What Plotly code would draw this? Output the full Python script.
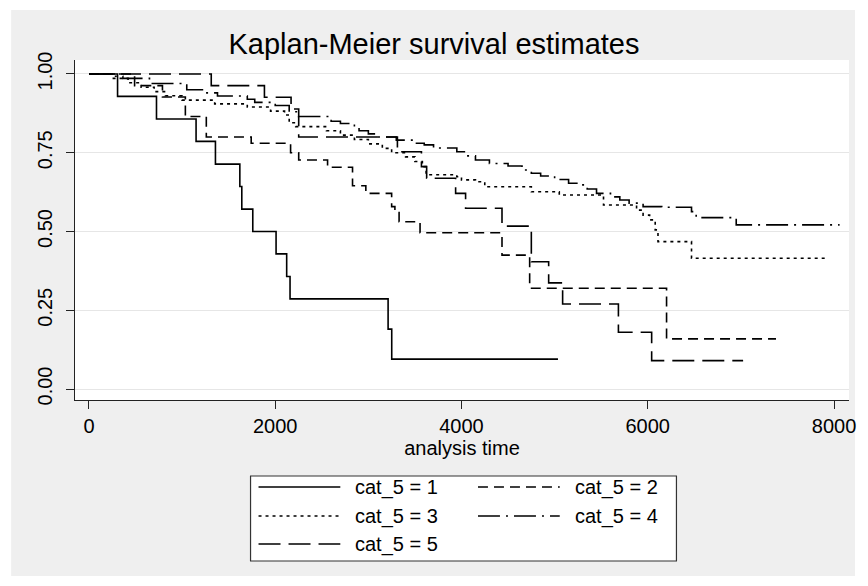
import plotly.graph_objects as go

# ---------------- data ----------------
labels = ["cat_5 = 1", "cat_5 = 2", "cat_5 = 3", "cat_5 = 4", "cat_5 = 5"]

t_cat1 = [0, 307, 725, 1150, 1358, 1620, 1641, 1759, 2009, 2123, 2159, 3212, 3251, 5036]
s_cat1 = [1.0, 0.929, 0.857, 0.786, 0.714, 0.643, 0.571, 0.500, 0.429, 0.357, 0.286, 0.190, 0.095, 0.095]

t_cat2 = [0, 490, 789, 1035, 1260, 1742, 2165, 2252, 2562, 2830, 2973, 3250, 3285, 3330, 3555, 4435, 4732, 6202, 7377]
s_cat2 = [1.0, 0.963, 0.927, 0.865, 0.800, 0.780, 0.750, 0.727, 0.704, 0.645, 0.621, 0.579, 0.560, 0.531, 0.496, 0.425, 0.320, 0.159, 0.159]

t_cat3 = [0, 250, 420, 560, 700, 820, 1000, 1350, 1700, 1950, 2100, 2150, 2220, 2550, 2700, 2850, 3000, 3150,
          3250, 3400, 3500, 3580, 3620, 3950, 4000, 4150, 4250, 4750, 5050, 5525, 5880, 5950, 6020, 6080, 6110, 6470, 7934]
s_cat3 = [1.0, 0.986, 0.972, 0.958, 0.944, 0.931, 0.917, 0.905, 0.895, 0.882, 0.870, 0.845, 0.833, 0.820, 0.806, 0.792, 0.778, 0.764,
          0.750, 0.737, 0.722, 0.706, 0.680, 0.674, 0.664, 0.658, 0.642, 0.626, 0.616, 0.584, 0.568, 0.552, 0.537, 0.505, 0.468, 0.415, 0.415]

t_cat4 = [0, 225, 364, 650, 1050, 1250, 1380, 1700, 1780, 2000, 2150, 2250, 2600, 2700, 2850, 2900, 3000, 3100, 3300,
          3500, 3600, 3700, 3950, 4050, 4150, 4300, 4500, 4650, 4750, 4850, 5000, 5150, 5250, 5350, 5450, 5600, 5700,
          5800, 5950, 6150, 6470, 6520, 6950, 8060]
s_cat4 = [1.0, 0.993, 0.986, 0.970, 0.950, 0.940, 0.930, 0.920, 0.910, 0.900, 0.880, 0.865, 0.850, 0.843, 0.830, 0.820, 0.810, 0.800, 0.790,
          0.780, 0.775, 0.765, 0.753, 0.740, 0.727, 0.716, 0.708, 0.695, 0.685, 0.676, 0.665, 0.653, 0.648, 0.635, 0.621, 0.610, 0.600,
          0.590, 0.579, 0.577, 0.563, 0.544, 0.521, 0.521]

t_cat5 = [0, 1313, 1884, 2170, 2252, 3312, 3570, 3626, 3937, 4044, 4435, 4750, 4936, 5086, 5685, 6042, 7024]
s_cat5 = [1.0, 0.963, 0.926, 0.889, 0.800, 0.753, 0.706, 0.669, 0.621, 0.574, 0.517, 0.404, 0.337, 0.270, 0.180, 0.090, 0.090]

x_ticks = [0, 2000, 4000, 6000, 8000]
y_ticks = [0, 0.25, 0.5, 0.75, 1.0]
y_ticklabels = ["0.00", "0.25", "0.50", "0.75", "1.00"]

# ---------------- styling ----------------
FONT = "Liberation Sans, Arial, sans-serif"
W_FIG, H_FIG = 868, 586
L, R, T, B = 75, 851, 60, 400  # plot area in pixels
PW, PH = R - L, B - T

dashes = ["solid", "10px,6px", "3px,4px", "22px,6px,2px,6px", "22px,8px"]
LINE_W = 1.6


def px(xp):
    return (xp - L) / PW


def py(yp):
    return (B - yp) / PH


series = [(t_cat1, s_cat1), (t_cat2, s_cat2), (t_cat3, s_cat3), (t_cat4, s_cat4), (t_cat5, s_cat5)]

fig = go.Figure()
for (tt, ss), name, d in zip(series, labels, dashes):
    fig.add_trace(go.Scatter(
        x=tt, y=ss, mode="lines", name=name,
        line=dict(color="black", width=LINE_W, dash=d, shape="hv"),
        showlegend=False, hoverinfo="x+y+name",
    ))

shapes = [
    # gray graph region
    dict(type="rect", xref="paper", yref="paper", layer="below",
         x0=px(11), x1=px(857), y0=py(576), y1=py(10),
         fillcolor="#efefef", line=dict(width=0)),
    # white plot region
    dict(type="rect", xref="paper", yref="paper", layer="below",
         x0=0, x1=1, y0=0, y1=1, fillcolor="white", line=dict(width=0)),
    # legend box
    dict(type="rect", xref="paper", yref="paper",
         x0=px(251), x1=px(678), y0=py(561), y1=py(476),
         fillcolor="white", line=dict(color="#333333", width=1.2)),
]

annotations = []
legend_pos = [(259, 487), (479, 487), (259, 516), (479, 516), (259, 544)]
for (lx, ly), name, d in zip(legend_pos, labels, dashes):
    shapes.append(dict(type="line", xref="paper", yref="paper",
                       x0=px(lx), x1=px(lx + 82), y0=py(ly), y1=py(ly),
                       line=dict(color="black", width=LINE_W, dash=d)))
    annotations.append(dict(xref="paper", yref="paper", x=px(lx + 95), y=py(ly),
                            xanchor="left", yanchor="middle", showarrow=False,
                            text=name, font=dict(family=FONT, size=20, color="black")))

fig.update_layout(
    width=W_FIG, height=H_FIG,
    margin=dict(l=L, r=W_FIG - R, t=T, b=H_FIG - B, pad=0),
    paper_bgcolor="white", plot_bgcolor="white",
    font=dict(family=FONT, color="black"),
    title=dict(text="Kaplan-Meier survival estimates", x=0.5, xref="container", xanchor="center",
               y=1 - 44 / H_FIG, yref="container", yanchor="middle",
               font=dict(family=FONT, size=29, color="black")),
    shapes=shapes, annotations=annotations,
    xaxis=dict(range=[-150, 8161], tickvals=x_ticks, ticktext=[str(v) for v in x_ticks],
               showgrid=False, zeroline=False, showline=True, linecolor="#222222", linewidth=1.2,
               ticks="outside", ticklen=8, tickcolor="#222222", tickwidth=1.2,
               tickfont=dict(family=FONT, size=20, color="black"),
               title=dict(text="analysis time", font=dict(family=FONT, size=20, color="black"), standoff=4)),
    yaxis=dict(range=[-0.0349, 1.0444], tickvals=y_ticks, ticktext=y_ticklabels, tickangle=-90,
               ticklabelstandoff=6,
               showgrid=True, gridcolor="#e6e6e6", gridwidth=1.2, zeroline=False,
               showline=True, linecolor="#222222", linewidth=1.2,
               ticks="outside", ticklen=8, tickcolor="#222222", tickwidth=1.2,
               tickfont=dict(family=FONT, size=20, color="black")),
)

fig.write_html("out.html", config={"displayModeBar": False},
               post_script="document.body.style.margin='0';document.body.style.padding='0';")
